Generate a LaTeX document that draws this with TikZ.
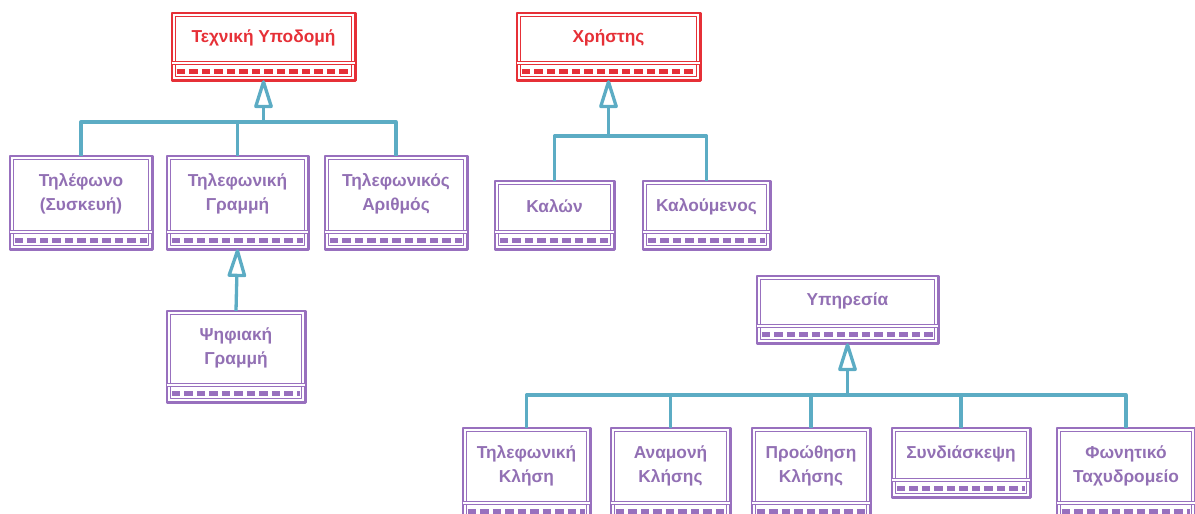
\documentclass[tikz,border=0pt]{standalone}
\usepackage{fontspec}
\setmainfont{Liberation Sans}
\usetikzlibrary{arrows.meta}
\definecolor{pur}{RGB}{152,112,190}
\definecolor{purtxt}{RGB}{146,112,180}
\definecolor{redc}{RGB}{230,48,55}
\definecolor{teal}{RGB}{92,172,196}
\tikzset{
  clstop/.style={inner sep=0pt, align=center, font=\bfseries\fontsize{17.3}{24}\selectfont},
  clsbot/.style={inner sep=0pt},
  outerframe/.style={draw=#1, line width=2.6pt, line join=round},
  innerframe/.style={draw=#1, line width=1pt, line join=round},
  divider/.style={draw=#1, line width=1.3pt, double=white, double distance=1.6pt},
  stripe/.style={draw=#1, line width=4.5pt, dash pattern=on 8.5pt off 4pt},
  conn/.style={draw=teal, line width=3.3pt, line join=round},
  inh/.style={conn, -{Triangle[open, length=32pt, width=19pt, line width=3.3pt, round]}},
}
\newcommand\umlcls[9]{%
  \fill[white] (#3,#4) rectangle (#5,#7);
  \node[clstop, text=#8, minimum width={#5-#3}, minimum height={#6-#4}] (#1) at ({(#3+#5)/2},{(#4+#6)/2}) {#9};
  \node[clsbot, minimum width={#5-#3}, minimum height={#7-#6}] (#1-b) at ({(#3+#5)/2},{(#6+#7)/2}) {};
  \draw[outerframe=#2] (#1.north west) rectangle (#1-b.south east);
  \draw[innerframe=#2] ([shift={(3.5,3.5)}]#1.north west) rectangle ([shift={(-3.5,-3.5)}]#1-b.south east);
  \draw[divider=#2] (#1.south west) -- (#1.south east);
  \draw[stripe=#2] ([xshift=5pt]#1-b.west) -- ([xshift=-5pt]#1-b.east);
}
\begin{document}
\begin{tikzpicture}[x=1pt,y=-1pt]
\useasboundingbox (0,0) rectangle (1195,514);
\clip (0,0) rectangle (1195,514);
% classes
\umlcls{tech}{redc}{172}{13}{355}{63}{80}{redc}{Τεχνική Υποδομή}
\umlcls{user}{redc}{517}{13}{700}{63}{80}{redc}{Χρήστης}
\umlcls{phone}{pur}{10}{156}{152}{232}{249}{purtxt}{Τηλέφωνο\\(Συσκευή)}
\umlcls{line}{pur}{167}{156}{308}{232}{249}{purtxt}{Τηλεφωνική\\Γραμμή}
\umlcls{num}{pur}{325}{156}{467}{232}{249}{purtxt}{Τηλεφωνικός\\Αριθμός}
\umlcls{caller}{pur}{495}{181}{614}{232}{249}{purtxt}{Καλών}
\umlcls{callee}{pur}{643}{181}{770}{232}{249}{purtxt}{Καλούμενος}
\umlcls{serv}{pur}{757}{276}{938}{326}{343}{purtxt}{Υπηρεσία}
\umlcls{dline}{pur}{167}{311}{305}{385}{402}{purtxt}{Ψηφιακή\\Γραμμή}
\umlcls{call}{pur}{463}{428}{590}{503}{520}{purtxt}{Τηλεφωνική\\Κλήση}
\umlcls{wait}{pur}{611}{428}{730}{503}{520}{purtxt}{Αναμονή\\Κλήσης}
\umlcls{fwd}{pur}{752}{428}{870}{503}{520}{purtxt}{Προώθηση\\Κλήσης}
\umlcls{conf}{pur}{892}{428}{1030}{480}{497}{purtxt}{Συνδιάσκεψη}
\umlcls{vmail}{pur}{1057}{428}{1195}{503}{520}{purtxt}{Φωνητικό\\Ταχυδρομείο}
% bars
\coordinate (techbar) at (263.5,122);
\coordinate (userbar) at (608.5,136);
\coordinate (servbar) at (847.5,395);
% connectors
\draw[conn] (phone.north) |- (techbar);
\draw[conn] (line.north) |- (techbar);
\draw[conn] (num.north) |- (techbar);
\draw[inh] (techbar) -- (tech-b.south);
\draw[conn] (caller.north) |- (userbar);
\draw[conn] (callee.north) |- (userbar);
\draw[inh] (userbar) -- (user-b.south);
\draw[conn] (call.north) |- (servbar);
\draw[conn] (wait.north) |- (servbar);
\draw[conn] (fwd.north) |- (servbar);
\draw[conn] (conf.north) |- (servbar);
\draw[conn] (vmail.north) |- (servbar);
\draw[inh] (servbar) -- (serv-b.south);
\draw[inh] (dline.north) -- (line-b.south);
\end{tikzpicture}
\end{document}
